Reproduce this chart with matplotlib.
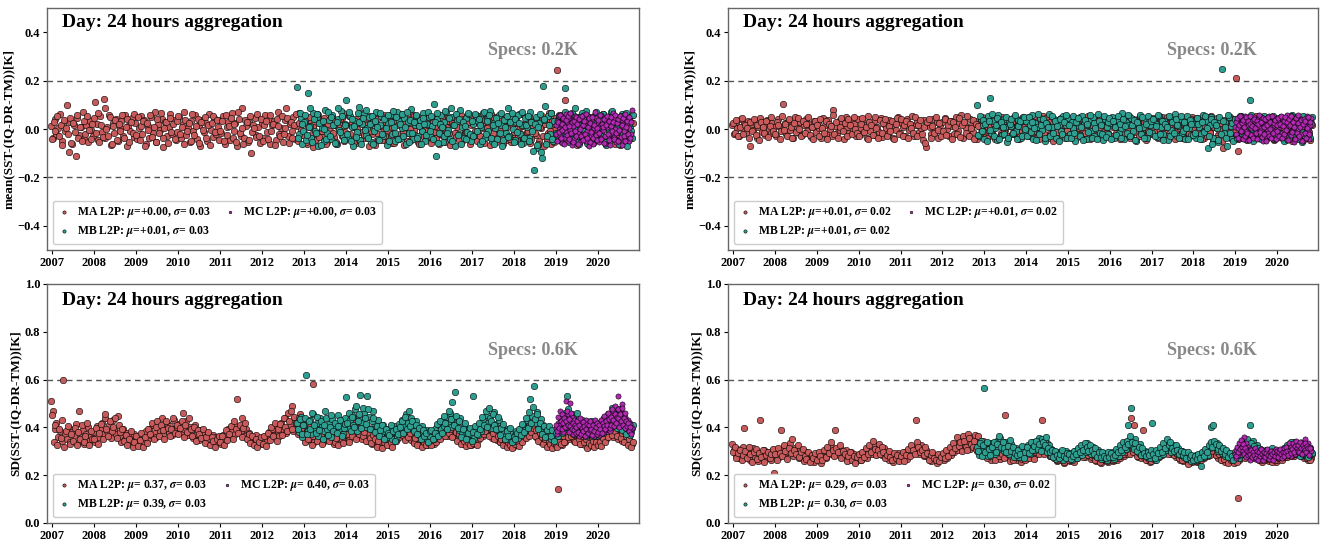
import matplotlib
matplotlib.use('Agg')
import matplotlib.pyplot as plt
import matplotlib.dates as mdates
import numpy as np
import pandas as pd

plt.rcParams['font.family'] = ['Liberation Serif', 'DejaVu Serif']
plt.rcParams['font.weight'] = 'bold'
plt.rcParams['mathtext.fontset'] = 'stix'

# ---- data, in mK ----
# each series has a main sample list and a "mid" list sampled half a step later
MA_START, MB_START, MC_START, END = '2006-12-20', '2012-11-01', '2019-01-01', '2020-10-25'

# top left: mean
mean_l_ma = [
    12, -35, 40, -20, 5, 63, -48, 22, -10, 100, -95, 30, -60, 18, -110, 45, -25, 8, 70, -40, 15, -55, 33, -5,
    -30, 110, 20, -45, 52, -12, 125, -38, 9, 60, -66, 27, -18, 41, -50, 3, 35, -28, 57, -70, 14, -8, 46, -33,
    25, -42, 6, 55, -22, 38, -60, 11, -35, 48, -15, 70, -52, 19, -4, 43, -75, 28, -30, 9, 62, -19, 36, -47,
    -12, 50, -38, 21, 72, -26, 4, -55, 33, -8, 58, -41, 17, -68, 39, -14, 26, -49, 64, -3, -31, 45, -22, 10,
    37, -18, 52, -60, 8, 29, -44, 66, -9, 23, -72, 41, -27, 85, -38, 12, -52, 30, -100, 18, 47, -25, 7, -58,
    24, -36, 59, -11, 42, -63, 15, 33, -46, 70, -20, 5, -54, 38, 88, -30, 21, -7, 51, -42, 13, 65, -24, 34,
    -18, 46, -60, 9, 31, -75, 22, -40, 58, -15, 40, -29, 11, -52, 36, -6, 49, -34, 20, -63, 27, -10, 44, -48,
    16, -27, 53, -41, 8, 37, -58, 25, -13, 61, -35, 3, 45, -70, 19, -22, 34, -50, 12, 48, -31, 6, -44, 29,
    -9, 42, -56, 18, 30, -38, 55, -21, 7, -64, 39, -16, 26, -47, 60, -5, 33, -53, 14, 44, -28, 2, -40, 50,
    21, -33, 47, -12, 9, -60, 36, -25, 54, -44, 15, 28, -57, 40, -18, 63, -36, 11, -49, 32, -7, 52, -30, 17,
    -41, 24, 58, -15, 35, -52, 6, 43, -28, 19, -66, 31, -9, 49, -37, 13, 56, -23, 27, -46, 8, 38, -55, 22,
    -20, 47, -34, 10, 62, -43, 25, -11, 40, -59, 18, 33, -26, 51, -48, 5, 29, -72, 44, -16, 37, -60, 14, -3,
    243, -35, 50, -18, 28, 120, -45, 11, 39, -27, 55, -52, 20, -8, 46, -38, 16, 31, -61, 24, -14, 42, -33, 9,
    -25, 48, -40, 17, 35, -56, 22, -9, 53, -42, 13, 30, -65, 41, -19, 27, -48, 36, -7, 57,
]
mean_l_ma_mid = [
    -42, 28, -8, 55, -30, 15, -65, 38, 4, -22, 47, -58, 26, -13, 60, -36, 9, -48, 33, -19, 52, -3, -40, 21,
    44, -15, 67, -52, 18, -34, 85, 2, -27, 49, -61, 13, 36, -44, 22, -9, 58, -37, 7, 41, -55, 30, -16, 62,
    -24, 51, -46, 14, 35, -68, 23, -5, 57, -31, 10, -53, 40, -18, 66, -39, 5, 29, -59, 46, -11, 19, -42, 32,
    53, -20, 8, -63, 39, -7, 27, -50, 61, -26, 14, 43, -57, 31, -2, 48, -35, 17, -66, 25, 56, -12, 38, -45,
    -6, 34, -49, 60, -23, 11, 45, -38, 20, -54, 70, -17, 3, -62, 37, 28, -45, 53, -14, 6, -33, 64, -28, 42,
    -51, 18, 35, -40, 58, -9, 22, -67, 43, 12, -30, 55, -21, 4, 47, -58, 30, -36, 16, 63, -48, 26, -3, -26,
    39, -55, 13, 50, -22, 7, -46, 62, -31, 24, -8, 45, -60, 19, -37, 56, -15, 34, -52, 9, 41, -27, 66, -12,
    -36, 57, -19, 25, -53, 40, 2, -44, 32, 68, -24, 15, -39, 52, -6, 28, -64, 43, -20, 11, -47, 59, -29, 36,
    47, -23, 9, -58, 33, 18, -41, 64, -14, 27, -50, 42, 1, -35, 55, -26, 38, -62, 20, -10, 49, -43, 16, -31,
    -57, 31, 12, -37, 60, -21, 44, 6, -52, 35, -16, -64, 23, 51, -33, 8, -45, 58, -25, 40, -11, 29, -60, 46,
    33, -9, -48, 55, -27, 19, -59, 38, 4, -34, 61, -18, 46, -52, 26, -3, 41, -63, 14, -29, 54, -40, 21, -13,
    27, -50, 63, -22, 12, -36, 48, -7, 56, -43, 30, -15, 40, -61, 9, 52, -28, 19, -46, 65, -10, 34, -54, 44,
    -30, 60, -12, 36, -51, 23, 7, -44, 57, -20, 32, -66, 14, 49, -35, 26, -9, 53, -42, 18, -58, 38, 3, -24,
    45, -17, 62, -49, 10, -32, 54, -6, 37, -60, 21, -25, 50, -13, 33, -54, 8, 43, -38, 24,
]
mean_l_mb = [
    173, -20, 45, -60,
    30, -45, 148, 12, -35, 68, -8, 50, -72, 25, 5, -50, 80, -15, 38, -40, 60, 18, -62, 42, -5, 75, -28, 22,
    120, -38, 55, 8, -70, 35, -12, 90, -45, 20, 62, -25, 3, 48, -55, 28, -10, 70, -42, 15, 52, -30, 40, -65,
    25, 58, -20, 10, -48, 72, 35, -35, 6, 45, -60, 30, -15, 82, -40, 18, 55, -28, 38, -8, 65, -50, 22, 48,
    -30, 12, 105, -110, 40, -18, 60, -55, 28, 70, -5, -42, 50, 15, -68, 35, -22, 78, 8, -38, 45, -12, 62, -48,
    20, -25, 55, 33, -62, 10, 68, -35, 42, -8, 75, -50, 25, 5, -40, 58, 18, -70, 38, -15, 85, -28, 48, 2,
    -45, 30, 60, -20, 15, -58, 45, 8, -35, 72, -10, -170, 50, -80, 25, -95, 180, 38, -60, 55, -22, 65, -48, 20,
    35, -40, 12, 58, -25, 170, 40, -55, 22, 68, -30, 5, 48, -62, 30, 15, -38, 75, -12, 42, -50, 25, 60, -20,
    10, -45, 52, 28, -65, 38, -8, 70, -30, 18, 45, -55, 25, 62, -18, 35, -70, 48, 5, -35,
]
mean_l_mb_mid = [
    -35, 65, 20, -10,
    58, -25, 10, 85, -52, 40, -18, 62, 25, -65, 35, 2, -40, 70, -28, 48, 15, -58, 30, 88, -12, 52, -45, 18,
    -20, 72, -48, 40, 12, -32, 65, 28, -60, 45, -5, 78, -38, 22, 55, -62, 35, 10, -45, 68, -22, 42, 5, 60,
    -50, 30, 75, -15, 48, -42, 20, 62, -28, 8, 70, -55, 38, -18, 28, 60, -35, 12, -62, 45, 20, -25, 72, -8,
    55, -40, 28, 65, -58, 22, 8, -30, 75, -15, 45, 85, -48, 18, 62, -25, 40, -60, 30, 12, -42, 68, -20, 35,
    -28, 62, -8, 40, 18, -50, 72, -22, 35, 58, -38, 15, -62, 45, 25, -15, 68, -45, 10, 55, -32, 28, 65, -52,
    42, -12, 25, -60, 70, -35, 18, 52, -48, 30, -90, 22, -65, 10, 62, -120, 40, 95, -30, 15, 68, -42, 32, -18,
    -15, 55, -48, 30, 72, -22, 10, 62, -40, 28, 88, -55, 18, -25, 65, -10, 42, -58, 25, 50, -35, 12, 70, -45,
    38, -28, 62, -52, 20, 48, -15, 75, -40, 30, 5, -62, 55, -20, 40, 68, -45, 22, -10, 58,
]
mean_l_mc = [
    -20, 35, -45, 10, 52, -30, 18, -58, 40, 5, -38, 62, -12, 28, -50, 45, -5, 22, -65, 38, 12, -42, 55, -25,
    30, -15, 48, -55, 8, 40, -35, 60, -22, 15, -48, 35, -8, 52, -70, 25, -28, 42, -60, 18, 3, -33, 46, -10,
    27, -52, 14, 58, -38, 20, -5, 44, -62, 31, 8, -28, 50, -45, 17, 36, -18, 65, -32, 2, 40, -55, 24, -12,
    47, -40, 11, 33, -66, 22, -8, 53, -30, 15, 42, -48, 6, 38, -22, 80,
]
mean_l_mc_mid = [
    15, -48, 30, -12, 58, -35, 22, -5, 45, -60, 8, 38, -25, 52, -40, 12, 65, -18, 28, -52, 35, -8, 48, -30,
    20, -62, 40, 2, -28, 55, -45, 15, 32, -20, 62, -38, 10, 45, -55, 25, -12, 50, -35, 18, 70, -25, 5, -45,
    38, -18, 58, -40, 22, 8, -58, 42, -30, 15, 52, -22, 35, -65, 12, 48, -8, 30, -42, 60, -15, 25, -50, 40,
    -5, 55, -32, 18, 45, -28, 62, -48, 10, 35, -20, 50, -38, 28,
]

# top right: mean
mean_r_ma = [
    15, -20, 30, 5, -28, 42, 0, 22, -15, 35, -70, 18, -5, 28, -35, 10, 45, -12, 20, -25, 38, 2, -18, 25,
    8, -30, 40, 12, -10, 103, 25, -22, 33, -5, 18, -38, 48, 6, -15, 30, -26, 15, 40, -8, 22, -33, 10, 35,
    -12, 28, 5, -35, 45, 18, -20, 38, 2, -28, 80, 12, -15, 32, -5, 25, -40, 50, 8, -18, 35, -10, 20, -30,
    40, 3, -22, 30, 15, -38, 52, -8, 20, 35, -25, 10, -12, 45, -32, 22, 5, -20, 38, 12, -35, 28, -2, 48,
    -18, 25, 10, -30, 42, -5, 22, 55, -28, 15, 33, -12, 5, -45, 38, -75, 20, 8, -22, 40, -10, 30, -35, 18,
    28, -15, 45, 2, -30, 35, 12, -20, 50, -8, 25, 60, -38, 15, 5, -25, 42, 18, -12, 32, -40, 22, 8, 48,
    -20, 35, 10, -28, 45, 0, 25, -35, 52, 12, -15, 30, -5, 40, -30, 18, 8, -22, 38, 15, -40, 28, -10, 42,
    20, -25, 48, 5, -18, 35, -38, 15, 28, -8, 55, -30, 12, 40, -15, 22, -42, 33, 5, -20, 45, 10, -28, 30,
    -12, 38, 18, -35, 25, 8, -22, 50, -5, 30, -40, 15, 42, -18, 22, 5, -32, 38, 12, -25, 48, -8, 28, -15,
    35, -28, 10, 45, -20, 22, 5, -38, 32, 15, -12, 52, -30, 25, 8, -45, 40, 18, -15, 30, -5, 42, -25, 12,
    28, -18, 40, 2, -32, 25, 50, -10, 18, -40, 35, 12, -22, 45, -8, 30, 5, -35, 22, 38, -15, 10, -28, 48,
    15, -30, 35, 8, -20, 42, -38, 22, 12, -12, 55, -45, 28, 5, -25, 38, -50, 18, 32, -8, 45, -35, 20, 2,
    210, -90, 30, -25, 15, 40, -42, 22, 8, -18, 48, -30, 12, 35, -10, 25, -38, 45, 5, -22, 30, 18, -45, 40,
    -15, 28, 10, -32, 42, 5, -20, 35, -48, 22, 12, -28, 50, -5, 30, -40, 18, 38, -12, 25,
]
mean_r_ma_mid = [
    25, -15, 38, -30, 10, 45, -22, 18, 5, -38, 30, -8, 42, -25, 15, -45, 28, 8, -18, 35, -32, 12, 48, -10,
    -20, 30, 15, -42, 52, -5, 22, -28, 40, 10, -35, 25, -12, 45, 2, -30, 35, -18, 20, 50, -25, 8, -40, 32,
    18, -28, 42, 5, -15, 35, -40, 22, 12, 58, -20, 30, -35, 10, 45, -8, 25, -30, 40, 15, -22, 48, 2, -18,
    -30, 22, 45, -12, 8, -42, 30, 18, -25, 50, 5, -35, 38, -15, 25, 42, -28, 12, -8, 35, -40, 20, 45, -22,
    40, -28, 15, 32, -38, 22, 5, -15, 48, -30, 18, 38, -22, 10, -58, 28, 42, -35, 12, -18, 50, -5, 25, -30,
    -8, 42, -25, 18, 35, -40, 28, 10, -20, 45, -32, 15, 30, -15, 52, -28, 5, 38, -42, 20, 12, -22, 40, -10,
    30, -35, 48, 8, -18, 22, -42, 38, 15, -25, 50, -8, 28, -38, 12, 42, -20, 32, -5, 25, -30, 45, 10, -22,
    -15, 40, -30, 25, 52, -10, 18, -40, 35, 5, -22, 45, -35, 28, 10, -48, 38, -12, 22, 42, -28, 15, 50, -5,
    35, -22, 12, 45, -38, 28, 5, -30, 40, -15, 22, 55, -40, 18, -10, 38, -25, 10, 48, -35, 25, 8, -18, 42,
    -28, 18, 40, -15, 30, -42, 12, 48, -22, 35, 5, -35, 25, 42, -12, 20, -30, 52, -8, 28, -45, 15, 38, -20,
    45, -12, 25, -35, 15, 38, -25, 8, 50, -30, 22, -8, 40, -42, 18, 30, -20, 45, -38, 12, 28, -15, 42, 5,
    -25, 40, -10, 28, -42, 18, 35, -28, 48, -15, 22, 8, -35, 45, -5, 25, -80, 38, -20, 12, 50, -30, 15, -12,
    28, -40, 45, -15, 22, 10, -35, 38, -8, 30, -25, 52, -38, 18, 40, -20, 12, -42, 35, 8, -28, 48, -12, 22,
    40, -30, 18, 45, -22, 28, -40, 12, 35, -15, 50, -35, 20, 8, -28, 42, -10, 30, -45, 15,
]
mean_r_mb = [
    100, -30, 40, 15,
    -40, 28, 55, 130, -15, 35, 5, -45, 60, 20, -25, 42, 8, -55, 30, 12, -20, 48, -8, 38, 22, -35, 50, -12,
    32, -28, 15, 58, -42, 25, 10, -18, 45, -5, 35, -50, 20, 62, -22, 8, 40, -35, 28, 15, -10, 52, -38, 18,
    45, -20, 30, 5, -48, 38, 12, -25, 55, 22, -40, 15, 35, -8, 48, -30, 18, 62, -15, 28, -45, 40, 10, -22,
    25, 50, -35, 12, 38, -18, 5, 65, -42, 28, 15, -28, 45, -10, 32, -50, 20, 58, -22, 8, 40, -38, 30, 15,
    -15, 42, 22, -32, 55, 8, -20, 35, 18, -45, 48, -5, 28, 62, -30, 12, 40, -18, 25, -40, 52, 5, -25, 35,
    20, -38, 45, 10, -22, 58, -8, 32, -80, 15, 48, -35, 25, 5, -55, 38, 247, -18, 28, -70, 50, 12, -40, 30,
    40, -25, 15, 52, -38, 22, 8, -15, 120, 35, -48, 18, 42, -12, 28, -35, 55, 10, -22, 45, -5, 32, -42, 20,
    15, -30, 48, 25, -45, 35, 8, -20, 58, -10, 28, 40, -35, 18, -52, 32, 5, 45, -25, 22,
]
mean_r_mb_mid = [
    -25, 55, -10, 38,
    20, -48, 35, -5, 62, -30, 18, 45, -40, 28, 8, -22, 50, -35, 22, 40, -15, 58, -42, 12, 35, -28, 48, 2,
    -30, 48, -12, 30, 5, -45, 62, -22, 18, 40, -38, 25, 8, -28, 55, -15, 35, 12, -48, 42, -20, 30, 60, -35,
    15, -35, 52, -18, 28, 45, -30, 10, -45, 38, 20, -12, 58, -38, 25, 5, -42, 35, 15, -22, 52, -32, 28, 45,
    -40, 32, 8, -25, 55, 20, -38, 42, 12, -15, 60, -30, 18, 38, -45, 28, 5, -20, 48, -35, 22, 55, -12, 35,
    40, -30, 12, 58, -22, 35, -45, 20, 8, 52, -28, 30, -15, 42, 18, -38, 55, -10, 28, 5, -42, 38, 22, -25,
    -18, 45, 22, -40, 30, -12, 55, 5, -30, 42, -60, 28, 15, -45, 48, -22, 35, 10, -38, 58, -15, 25, -50, 40,
    -35, 30, 55, -20, 12, 42, -45, 25, 60, -10, 35, -28, 18, 50, -40, 22, 8, -32, 45, 15, -20, 55, -38, 28,
    45, -15, 25, -48, 38, 10, -32, 52, -22, 30, 15, -42, 40, -8, 55, -30, 22, 5, -38, 48,
]
mean_r_mc = [
    10, -25, 38, 5, -40, 22, 48, -12, 30, -35, 15, 55, -8, 28, -45, 18, 40, -20, 5, 35, -30, 12, 50, -15,
    25, -38, 42, 8, -22, 32, -5, 45, -48, 20, 15, -28, 38, 2, -18, 52, -32, 28, 10, -42, 35, 18, -10, 45,
    -25, 30, 8, -38, 50, 15, -15, 40, -30, 22, 5, 58, -45, 28, 12, -20, 42, -8, 35, -52, 18, 30, -12, 48,
    2, -35, 25, 40, -22, 10, -48, 38, 20, -15, 55, -5, 28, -40, 15, 45,
]
mean_r_mc_mid = [
    30, -20, 45, -35, 15, 52, -10, 25, -42, 38, 8, -28, 48, -15, 32, -45, 20, 55, -25, 12, -38, 42, 5, -18,
    35, -40, 22, 58, -12, 28, -32, 45, 8, -22, 40, -48, 15, 50, -28, 30, 2, -35, 52, -15, 25, 38, -42, 18,
    -8, 45, -30, 22, 55, -38, 12, 35, -20, 48, -5, 28, -45, 40, 15, -25, 52, -12, 30, 8, -40, 45, -18, 25,
    58, -30, 10, 38, -48, 22, 42, -15, 32, -35, 5, 50, -22, 30,
]

# bottom left: SD
sd_l_ma = [
    510, 470, 395, 420, 360, 385, 345, 600, 372, 350, 398, 340, 380, 362, 415, 335, 470, 358, 390, 330, 372, 400, 348, 366,
    382, 340, 405, 360, 395, 420, 372, 440, 385, 410, 355, 430, 392, 372, 448, 360, 340, 395, 352, 378, 330, 365, 345, 372,
    338, 360, 325, 352, 372, 340, 385, 350, 395, 368, 410, 375, 360, 400, 385, 440, 372, 395, 420, 380, 405, 370, 430, 392,
    400, 415, 380, 462, 392, 425, 370, 400, 385, 355, 410, 372, 348, 390, 362, 375, 340, 365, 352, 330, 370, 345, 360, 338,
    355, 332, 368, 350, 372, 395, 360, 385, 410, 372, 520, 398, 380, 440, 365, 392, 350, 375, 342, 360, 335, 368, 348, 330,
    352, 338, 365, 345, 380, 355, 395, 370, 410, 385, 362, 420, 395, 440, 378, 460, 405, 490, 385, 430, 400, 375, 455, 410,
    360, 342, 385, 350, 372, 580, 338, 365, 395, 352, 378, 340, 400, 362, 348, 385, 355, 330, 372, 345, 360, 338, 380, 352,
    345, 368, 352, 390, 375, 420, 360, 440, 385, 350, 400, 365, 342, 378, 355, 332, 368, 345, 325, 352, 338, 360, 330, 348,
    340, 325, 355, 338, 370, 350, 385, 362, 395, 372, 355, 380, 365, 348, 372, 340, 358, 330, 345, 362, 335, 350, 328, 345,
    338, 355, 330, 362, 348, 375, 360, 392, 370, 385, 365, 450, 380, 398, 362, 375, 350, 368, 342, 330, 355, 338, 350, 325,
    345, 332, 360, 348, 375, 385, 362, 398, 380, 405, 370, 355, 385, 362, 348, 372, 340, 358, 330, 345, 325, 350, 338, 320,
    342, 328, 355, 338, 362, 350, 378, 365, 390, 372, 420, 385, 360, 375, 352, 340, 365, 335, 348, 325, 342, 330, 318, 338,
    330, 142, 345, 325, 352, 340, 365, 350, 375, 358, 345, 368, 340, 355, 332, 348, 328, 342, 320, 338, 352, 330, 345, 335,
    328, 345, 340, 358, 350, 372, 365, 380, 360, 395, 375, 352, 368, 345, 358, 338, 350, 330, 345, 332,
]
sd_l_ma_mid = [
    450, 340, 410, 325, 392, 355, 430, 318, 385, 405, 332, 372, 345, 398, 325, 380, 352, 412, 338, 365, 420, 328, 385, 350,
    352, 398, 330, 378, 415, 350, 455, 392, 365, 428, 385, 402, 438, 355, 410, 380, 395, 345, 370, 328, 352, 385, 318, 340,
    365, 322, 348, 378, 318, 360, 335, 395, 372, 418, 352, 400, 428, 365, 410, 388, 352, 425, 398, 365, 392, 440, 378, 410,
    372, 398, 425, 358, 410, 380, 438, 392, 362, 400, 342, 388, 372, 355, 395, 335, 360, 382, 325, 358, 345, 320, 350, 362,
    338, 365, 325, 388, 348, 372, 405, 352, 425, 395, 378, 410, 360, 398, 418, 352, 372, 335, 362, 328, 350, 318, 340, 358,
    330, 362, 322, 378, 348, 400, 365, 420, 345, 392, 415, 370, 438, 402, 385, 425, 470, 392, 445, 418, 372, 440, 395, 430,
    338, 372, 352, 400, 328, 362, 385, 345, 410, 370, 332, 392, 355, 375, 342, 398, 365, 340, 355, 325, 388, 350, 335, 368,
    372, 338, 405, 362, 388, 350, 398, 372, 415, 365, 380, 345, 398, 355, 335, 370, 350, 320, 345, 372, 315, 340, 355, 328,
    352, 338, 318, 362, 345, 380, 358, 402, 368, 348, 392, 360, 378, 395, 335, 355, 325, 368, 350, 318, 340, 328, 358, 335,
    325, 348, 362, 340, 385, 352, 405, 382, 362, 400, 378, 392, 358, 410, 382, 345, 372, 330, 362, 345, 322, 340, 328, 350,
    335, 352, 325, 372, 355, 398, 372, 385, 412, 365, 392, 375, 352, 395, 365, 338, 350, 325, 348, 318, 338, 328, 312, 340,
    332, 345, 322, 368, 340, 388, 355, 400, 362, 380, 398, 365, 390, 345, 378, 358, 332, 352, 318, 340, 330, 312, 335, 325,
    318, 340, 332, 362, 338, 380, 358, 392, 365, 372, 340, 385, 352, 330, 362, 338, 352, 315, 335, 328, 345, 318, 338, 325,
    340, 322, 355, 338, 372, 358, 392, 368, 405, 385, 362, 392, 355, 378, 340, 362, 328, 352, 318, 340,
]
sd_l_mb = [
    420, 380, 445, 360,
    410, 620, 385, 430, 372, 455, 398, 420, 365, 440, 405, 385, 470, 392, 415, 360, 435, 402, 380, 450, 395, 418, 372, 440,
    528, 398, 430, 452, 410, 475, 385, 440, 535, 420, 462, 400, 530, 445, 395, 470, 418, 380, 430, 395, 372, 410, 385, 360,
    395, 372, 350, 405, 380, 362, 415, 390, 430, 405, 455, 420, 398, 440, 410, 382, 425, 395, 368, 405, 380, 355, 390, 372,
    362, 385, 350, 398, 375, 410, 392, 430, 405, 445, 418, 462, 400, 435, 550, 420, 390, 440, 372, 405, 385, 360, 395, 372,
    530, 355, 390, 368, 412, 385, 430, 405, 452, 420, 440, 398, 465, 415, 390, 430, 375, 405, 380, 362, 392, 350, 372, 345,
    368, 385, 355, 395, 372, 410, 388, 430, 405, 520, 448, 575, 420, 465, 398, 435, 410, 385, 395, 368, 380, 352, 372, 360,
    385, 362, 398, 375, 420, 395, 530, 440, 410, 455, 400, 430, 385, 418, 372, 405, 390, 362, 398, 375, 410, 385, 365, 395,
    372, 400, 385, 415, 392, 430, 405, 445, 420, 468, 410, 440, 395, 425, 402, 380, 415, 392, 370, 398,
]
sd_l_mb_mid = [
    395, 435, 372, 410,
    440, 372, 425, 395, 460, 410, 378, 445, 390, 425, 350, 412, 438, 368, 400, 452, 385, 420, 375, 405, 430, 362, 398, 415,
    420, 462, 385, 445, 400, 490, 425, 455, 398, 480, 440, 415, 475, 395, 428, 440, 380, 405, 365, 388, 410, 352, 395, 378,
    368, 410, 385, 342, 392, 372, 400, 425, 378, 445, 395, 470, 405, 428, 385, 410, 372, 398, 352, 388, 365, 375, 340, 385,
    388, 350, 375, 415, 365, 425, 378, 448, 420, 392, 470, 435, 505, 412, 448, 398, 428, 360, 395, 418, 352, 378, 398, 345,
    380, 405, 372, 420, 395, 445, 412, 468, 402, 480, 425, 455, 410, 395, 445, 370, 398, 415, 352, 385, 365, 398, 340, 360,
    350, 375, 392, 368, 415, 382, 440, 398, 465, 420, 485, 435, 455, 395, 420, 372, 405, 360, 388, 405, 362, 390, 345, 375,
    405, 380, 425, 395, 460, 412, 478, 420, 395, 438, 415, 462, 402, 385, 430, 395, 372, 415, 385, 425, 362, 398, 378, 412,
    390, 422, 375, 440, 412, 458, 395, 480, 432, 455, 398, 475, 418, 390, 435, 372, 405, 420, 385, 410,
]
sd_l_mc = [
    398, 372, 420, 385, 410, 440, 395, 428, 380, 450, 412, 510, 435, 400, 458, 425, 500, 390, 445, 415, 372, 430, 405, 382,
    418, 395, 365, 408, 385, 425, 398, 372, 412, 388, 430, 402, 368, 395, 420, 380, 405, 375, 398, 362, 415, 390, 408, 378,
    395, 370, 412, 388, 425, 400, 438, 380, 410, 392, 445, 418, 402, 430, 385, 455, 420, 468, 405, 440, 490, 425, 452, 530,
    415, 470, 438, 498, 428, 460, 405, 445, 418, 392, 430, 405, 385, 415, 375, 398,
]
sd_l_mc_mid = [
    410, 385, 445, 398, 470, 425, 392, 455, 418, 440, 400, 428, 468, 412, 380, 435, 405, 460, 395, 420, 388, 412, 375, 402,
    428, 382, 410, 440, 372, 398, 422, 385, 405, 362, 392, 415, 378, 408, 388, 425, 395, 368, 410, 385, 432, 400, 372, 420,
    382, 408, 395, 430, 375, 418, 448, 405, 392, 428, 410, 462, 435, 398, 442, 412, 478, 430, 405, 458, 420, 445, 478, 438,
    400, 455, 425, 482, 410, 438, 398, 460, 428, 405, 418, 385, 402, 372,
]

# bottom right: SD
sd_r_ma = [
    330, 305, 285, 310, 270, 295, 318, 396, 282, 300, 265, 290, 312, 275, 298, 260, 430, 288, 305, 270, 295, 280, 262, 300,
    210, 285, 300, 275, 390, 310, 288, 320, 295, 335, 302, 280, 315, 292, 270, 305, 285, 260, 295, 275, 288, 265, 280, 255,
    290, 268, 278, 250, 285, 300, 272, 310, 290, 320, 298, 390, 305, 285, 315, 292, 275, 305, 282, 262, 295, 270, 288, 258,
    275, 290, 262, 282, 300, 270, 295, 312, 288, 325, 305, 290, 330, 300, 285, 312, 278, 295, 265, 288, 255, 280, 270, 292,
    262, 285, 275, 295, 268, 302, 290, 318, 298, 430, 310, 288, 325, 300, 282, 305, 275, 290, 260, 282, 272, 250, 285, 268,
    278, 262, 290, 272, 300, 285, 315, 295, 330, 305, 350, 318, 362, 325, 340, 372, 310, 355, 330, 368, 300, 345, 320, 335,
    290, 315, 278, 300, 265, 285, 302, 272, 295, 268, 282, 305, 450, 275, 290, 260, 285, 270, 298, 262, 280, 255, 272, 288,
    268, 292, 275, 300, 285, 310, 290, 322, 300, 430, 315, 292, 335, 305, 282, 298, 270, 288, 258, 275, 262, 280, 250, 268,
    275, 258, 282, 265, 290, 272, 298, 285, 305, 290, 278, 300, 285, 268, 292, 275, 260, 282, 265, 250, 278, 262, 270, 255,
    268, 280, 258, 275, 265, 288, 272, 295, 280, 305, 290, 315, 440, 300, 410, 292, 278, 302, 270, 390, 285, 262, 278, 255,
    270, 282, 262, 290, 275, 300, 285, 315, 295, 325, 302, 288, 310, 295, 278, 290, 265, 280, 258, 272, 262, 250, 268, 255,
    262, 278, 255, 270, 262, 285, 272, 295, 282, 305, 290, 315, 298, 280, 270, 292, 262, 278, 255, 268, 258, 275, 262, 250,
    268, 105, 262, 285, 275, 298, 282, 310, 290, 275, 295, 270, 282, 262, 278, 255, 270, 262, 285, 258, 275, 265, 280, 255,
    262, 278, 270, 290, 275, 300, 285, 312, 295, 282, 305, 290, 315, 280, 298, 272, 288, 265, 282, 270,
]
sd_r_ma_mid = [
    298, 318, 270, 292, 305, 262, 285, 300, 272, 318, 288, 255, 295, 310, 268, 292, 278, 305, 255, 285, 298, 272, 288, 310,
    290, 265, 312, 292, 280, 325, 300, 268, 315, 292, 350, 305, 290, 328, 275, 295, 308, 282, 268, 298, 255, 285, 270, 292,
    265, 298, 282, 262, 305, 275, 318, 292, 338, 305, 282, 315, 298, 325, 272, 300, 290, 258, 280, 298, 265, 282, 250, 275,
    288, 262, 298, 275, 315, 290, 325, 298, 342, 310, 285, 305, 290, 318, 298, 270, 285, 302, 278, 262, 292, 270, 285, 258,
    280, 295, 258, 285, 310, 282, 325, 305, 288, 340, 318, 295, 305, 285, 318, 292, 262, 285, 298, 270, 262, 290, 258, 275,
    292, 270, 305, 282, 318, 298, 335, 312, 360, 322, 338, 300, 345, 318, 305, 355, 332, 318, 342, 310, 365, 328, 312, 345,
    305, 272, 292, 285, 310, 278, 262, 295, 282, 305, 290, 272, 298, 288, 305, 282, 265, 292, 275, 285, 298, 268, 290, 262,
    285, 270, 305, 292, 268, 298, 318, 290, 325, 305, 290, 318, 300, 282, 310, 285, 298, 265, 280, 292, 270, 255, 285, 272,
    262, 285, 272, 255, 300, 282, 290, 310, 278, 300, 318, 285, 295, 275, 285, 262, 290, 272, 255, 285, 268, 280, 258, 275,
    280, 262, 290, 270, 298, 280, 310, 288, 325, 298, 305, 290, 320, 295, 312, 280, 305, 288, 292, 275, 262, 290, 268, 258,
    285, 268, 295, 278, 288, 312, 295, 305, 318, 290, 310, 298, 285, 305, 290, 272, 285, 262, 290, 275, 248, 270, 262, 280,
    275, 258, 282, 290, 275, 298, 285, 310, 295, 285, 302, 322, 285, 298, 288, 262, 285, 268, 280, 250, 272, 262, 280, 265,
    255, 282, 270, 298, 288, 270, 312, 295, 305, 285, 280, 298, 270, 292, 262, 285, 275, 292, 268, 280, 255, 272, 262, 290,
    270, 290, 262, 302, 288, 278, 295, 282, 312, 298, 288, 305, 298, 292, 282, 305, 270, 295, 262, 288,
]
sd_r_mb = [
    320, 285, 345, 300,
    563, 310, 282, 335, 298, 322, 290, 345, 310, 355, 325, 300, 340, 312, 288, 330, 302, 278, 315, 295, 275, 305, 285, 318,
    300, 325, 290, 315, 340, 305, 330, 355, 318, 350, 310, 345, 298, 325, 282, 305, 290, 268, 298, 278, 295, 265, 285, 300,
    275, 292, 265, 285, 300, 272, 290, 310, 285, 320, 298, 335, 310, 290, 318, 298, 280, 305, 285, 268, 292, 275, 262, 288,
    278, 295, 268, 290, 305, 282, 315, 298, 330, 310, 410, 345, 480, 320, 350, 315, 298, 330, 305, 285, 300, 278, 292, 270,
    420, 285, 265, 295, 280, 305, 290, 322, 305, 340, 315, 298, 328, 310, 292, 315, 285, 300, 275, 288, 268, 282, 260, 275,
    270, 285, 262, 278, 240, 292, 275, 300, 285, 315, 400, 410, 318, 335, 300, 318, 292, 305, 282, 298, 275, 290, 268, 285,
    280, 298, 272, 305, 290, 322, 310, 338, 410, 315, 345, 300, 325, 292, 310, 285, 300, 278, 295, 272, 288, 305, 282, 298,
    275, 292, 285, 305, 295, 318, 300, 328, 310, 340, 305, 320, 298, 315, 285, 305, 292, 310, 280, 298,
]
sd_r_mb_mid = [
    300, 335, 280, 325,
    295, 340, 308, 285, 318, 340, 298, 330, 362, 320, 338, 315, 295, 322, 348, 300, 318, 292, 285, 305, 290, 322, 270, 298,
    318, 292, 340, 305, 322, 345, 310, 330, 300, 338, 328, 360, 312, 295, 305, 278, 300, 285, 272, 290, 305, 282, 272, 292,
    290, 268, 280, 302, 288, 315, 295, 325, 305, 335, 318, 300, 325, 305, 290, 312, 275, 298, 278, 295, 282, 270, 295, 278,
    292, 275, 285, 310, 295, 325, 305, 340, 320, 345, 330, 362, 338, 310, 335, 302, 318, 285, 312, 292, 280, 298, 285, 305,
    290, 272, 305, 292, 318, 298, 335, 312, 350, 325, 340, 312, 300, 325, 305, 290, 302, 285, 295, 272, 298, 275, 285, 262,
    282, 268, 290, 272, 298, 282, 310, 295, 328, 340, 318, 345, 330, 310, 325, 300, 315, 290, 305, 275, 292, 282, 262, 295,
    295, 285, 312, 290, 330, 300, 350, 325, 335, 305, 322, 298, 312, 285, 302, 278, 290, 305, 270, 295, 312, 280, 298, 275,
    288, 302, 278, 312, 290, 328, 305, 338, 295, 318, 290, 308, 282, 300, 315, 288, 305, 275, 312, 292,
]
sd_r_mc = [
    290, 272, 305, 285, 312, 295, 325, 302, 338, 315, 360, 322, 305, 335, 298, 318, 290, 310, 282, 300, 275, 295, 285, 268,
    302, 280, 292, 272, 298, 285, 310, 278, 295, 270, 288, 305, 282, 298, 275, 290, 268, 285, 300, 278, 292, 272, 288, 305,
    280, 295, 272, 290, 305, 285, 298, 275, 310, 288, 302, 282, 295, 318, 290, 305, 280, 300, 325, 295, 312, 288, 305, 330,
    298, 318, 292, 340, 310, 288, 325, 302, 350, 315, 295, 335, 308, 285, 320, 300,
]
sd_r_mc_mid = [
    305, 280, 320, 298, 335, 310, 348, 318, 300, 330, 290, 315, 275, 302, 285, 295, 262, 288, 305, 278, 298, 285, 312, 270,
    288, 300, 265, 295, 280, 308, 290, 262, 282, 298, 275, 292, 310, 285, 268, 295, 280, 302, 288, 265, 298, 280, 310, 292,
    300, 275, 295, 310, 288, 270, 295, 312, 280, 298, 318, 302, 285, 335, 305, 292, 318, 310, 335, 298, 322, 345, 315, 302,
    325, 298, 338, 315, 290, 328, 312, 335, 305, 295, 322, 315, 285, 312,
]

# legend statistics (mu, sigma) per panel
stats_mean_l = [('+0.00', '0.03'), ('+0.01', '0.03'), ('+0.00', '0.03')]
stats_mean_r = [('+0.01', '0.02'), ('+0.01', '0.02'), ('+0.01', '0.02')]
stats_sd_l = [('0.37', '0.03'), ('0.39', '0.03'), ('0.40', '0.03')]
stats_sd_r = [('0.29', '0.03'), ('0.30', '0.03'), ('0.30', '0.02')]

names = ['MA L2P', 'MB L2P', 'MC L2P']
colors = ['#c75a5a', '#2e9e90', '#b02ab0']
starts = [MA_START, MB_START, MC_START]


def draw_panel(ax, series, stats, mean_panel):
    for k, (main, mid) in enumerate(series):
        t_main = pd.date_range(starts[k], END, periods=len(main))
        step = t_main[1] - t_main[0]
        mid = mid[:len(main)]
        t_mid = t_main[:len(mid)] + step / 2
        t = t_main.append(t_mid)
        y = np.array(main + mid) / 1000.0
        mu, sd = stats[k]
        sep = '' if mu.startswith('+') else ' '
        lab = f'{names[k]}: $\\mu$={sep}{mu}, $\\sigma$= {sd}'
        ax.scatter(t, y, s=22 if k < 2 else 14, c=colors[k], edgecolors='black',
                   linewidths=0.4, label=lab, zorder=2 + k)

    if mean_panel:
        ax.set_ylim(-0.5, 0.5)
        ax.set_yticks([-0.4, -0.2, 0.0, 0.2, 0.4])
        for h in (0.2, -0.2):
            ax.axhline(h, color='#555555', ls=(0, (4, 3)), lw=1.0, zorder=1)
        ax.set_ylabel('mean(SST-(IQ-DR-TM))[K]', fontsize=9.5, fontweight='bold', labelpad=2)
        ax.text(0.82, 0.825, 'Specs: 0.2K', transform=ax.transAxes, ha='center', va='center',
                fontsize=13, color='#888888', fontweight='bold')
        ty = 0.942
    else:
        ax.set_ylim(0.0, 1.0)
        ax.set_yticks([0.0, 0.2, 0.4, 0.6, 0.8, 1.0])
        ax.axhline(0.6, color='#555555', ls=(0, (4, 3)), lw=1.0, zorder=1)
        ax.set_ylabel('SD(SST-(IQ-DR-TM))[K]', fontsize=9.5, fontweight='bold', labelpad=2)
        ax.text(0.82, 0.72, 'Specs: 0.6K', transform=ax.transAxes, ha='center', va='center',
                fontsize=13, color='#888888', fontweight='bold')
        ty = 0.932

    ax.text(0.025, ty, 'Day: 24 hours aggregation', transform=ax.transAxes, ha='left',
            va='center', fontsize=14, fontweight='bold')

    ax.set_xlim(pd.Timestamp('2006-11-15'), pd.Timestamp('2020-12-25'))
    ax.xaxis.set_major_locator(mdates.YearLocator())
    ax.xaxis.set_major_formatter(mdates.DateFormatter('%Y'))
    ax.tick_params(labelsize=9, length=3, width=0.8, pad=2)
    for lbl in ax.get_xticklabels() + ax.get_yticklabels():
        lbl.set_fontweight('bold')
    for sp in ax.spines.values():
        sp.set_color('#666666')
        sp.set_linewidth(1.0)

    ax.legend(loc='lower left', ncol=2, markerscale=0.5, handlelength=1.0, handletextpad=0.6,
              columnspacing=1.2, labelspacing=0.35, borderpad=0.4, borderaxespad=0.5,
              framealpha=1.0, edgecolor='#cccccc', prop={'weight': 'bold', 'size': 8.5})


fig = plt.figure(figsize=(13.22, 5.4), dpi=100)
ax1 = fig.add_axes([0.0356, 0.537, 0.4478, 0.448])
ax2 = fig.add_axes([0.5507, 0.537, 0.4463, 0.448])
ax3 = fig.add_axes([0.0356, 0.0315, 0.4478, 0.4426])
ax4 = fig.add_axes([0.5507, 0.0315, 0.4463, 0.4426])

draw_panel(ax1, [(mean_l_ma, mean_l_ma_mid), (mean_l_mb, mean_l_mb_mid), (mean_l_mc, mean_l_mc_mid)],
           stats_mean_l, True)
draw_panel(ax2, [(mean_r_ma, mean_r_ma_mid), (mean_r_mb, mean_r_mb_mid), (mean_r_mc, mean_r_mc_mid)],
           stats_mean_r, True)
draw_panel(ax3, [(sd_l_ma, sd_l_ma_mid), (sd_l_mb, sd_l_mb_mid), (sd_l_mc, sd_l_mc_mid)],
           stats_sd_l, False)
draw_panel(ax4, [(sd_r_ma, sd_r_ma_mid), (sd_r_mb, sd_r_mb_mid), (sd_r_mc, sd_r_mc_mid)],
           stats_sd_r, False)

fig.savefig('out.png', dpi=100)
